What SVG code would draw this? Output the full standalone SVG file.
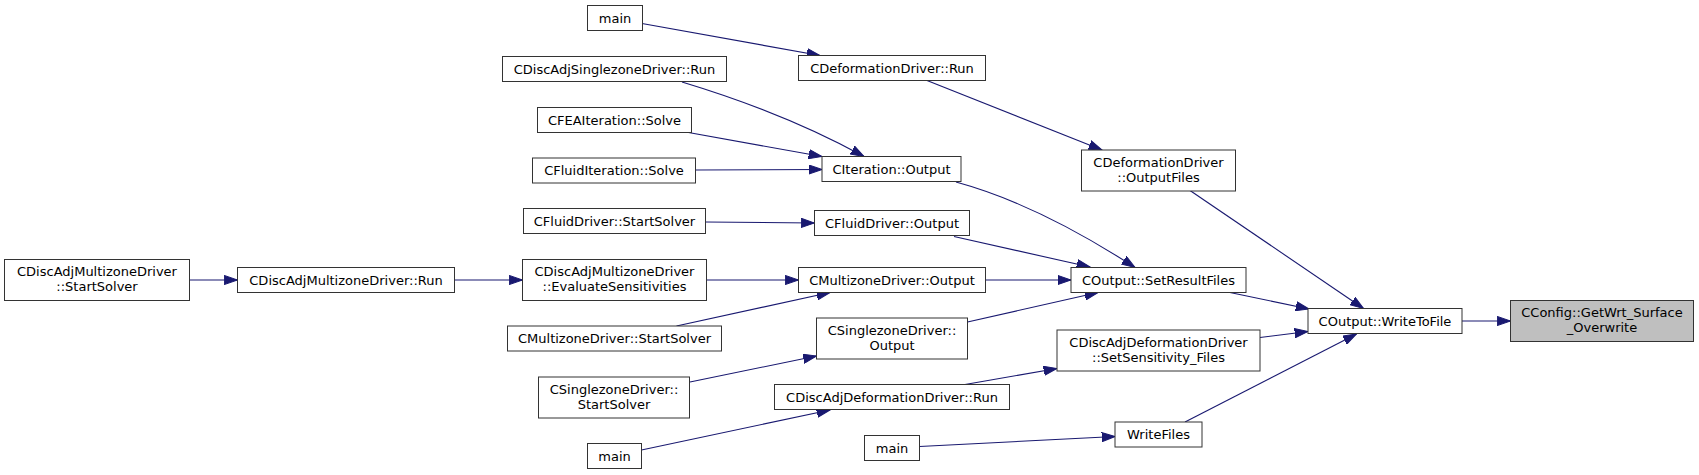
<svg xmlns="http://www.w3.org/2000/svg" width="1699" height="475" viewBox="0 0 1699 475">
<style>
.n rect{fill:#fff;stroke:#333;stroke-width:1}
.n.hl rect{fill:#bfbfbf}
.n text{font-family:"DejaVu Sans","Liberation Sans",sans-serif;font-size:13px;fill:#000;text-anchor:middle}
.e path{fill:none;stroke:#191970;stroke-width:1.1;marker-end:url(#ah)}
</style>
<defs>
<marker id="ah" markerWidth="14" markerHeight="10" refX="13.3" refY="5" orient="auto" markerUnits="userSpaceOnUse">
<path d="M0,0.4 L13.3,5 L0,9.6 z" fill="#191970" stroke="#191970" stroke-width="1"/>
</marker>
</defs>
<rect width="1699" height="475" fill="#fff"/>
<g id="edges" class="e">
<path d="M189.5,280 L237.5,280"/>
<path d="M454.5,280 L522.5,280"/>
<path d="M706.5,280 L798.5,280"/>
<path d="M676.5,326 L830,292.5"/>
<path d="M985.5,280 L1071,280"/>
<path d="M642,23.5 L820,55.5"/>
<path d="M682,82 C735,98 805,124 864,156.5"/>
<path d="M688.5,132.5 L822,156.5"/>
<path d="M695.5,170 L822,169.5"/>
<path d="M705.5,222 L814.5,223"/>
<path d="M927,80.5 L1102,150"/>
<path d="M956,182 C1000,194 1062,220 1135,267.5"/>
<path d="M954,236.5 L1090,267"/>
<path d="M967.5,322 L1098,292.5"/>
<path d="M690,382 L816.5,356"/>
<path d="M965,384.5 L1057,368.5"/>
<path d="M641.5,450 L830,410"/>
<path d="M919.5,446.5 L1115,436.5"/>
<path d="M1190,190.5 L1363.5,308.5"/>
<path d="M1230,292.5 L1309,309"/>
<path d="M1260,337.5 L1308,331.5"/>
<path d="M1185,422 L1356.5,334"/>
<path d="M1462,321 L1510.5,321"/>
</g>
<g id="n1" class="n"><rect x="4.5" y="259.5" width="185" height="41"/><text x="97" y="276">CDiscAdjMultizoneDriver</text><text x="97" y="291">::StartSolver</text></g>
<g id="n2" class="n"><rect x="237.5" y="267.5" width="217" height="25"/><text x="346" y="284.5">CDiscAdjMultizoneDriver::Run</text></g>
<g id="n3" class="n"><rect x="587.5" y="5.5" width="55" height="25"/><text x="615" y="22.5">main</text></g>
<g id="n4" class="n"><rect x="502.5" y="56.5" width="224" height="25"/><text x="614.5" y="73.5">CDiscAdjSinglezoneDriver::Run</text></g>
<g id="n5" class="n"><rect x="537.5" y="107.5" width="154" height="25"/><text x="614.5" y="124.5">CFEAIteration::Solve</text></g>
<g id="n6" class="n"><rect x="532.5" y="158" width="163" height="25"/><text x="614" y="175">CFluidIteration::Solve</text></g>
<g id="n7" class="n"><rect x="523.5" y="208.5" width="182" height="25"/><text x="614.5" y="225.5">CFluidDriver::StartSolver</text></g>
<g id="n8" class="n"><rect x="522.5" y="259.5" width="184" height="41"/><text x="614.5" y="276">CDiscAdjMultizoneDriver</text><text x="614.5" y="291">::EvaluateSensitivities</text></g>
<g id="n9" class="n"><rect x="507.5" y="326" width="214" height="25"/><text x="614.5" y="343">CMultizoneDriver::StartSolver</text></g>
<g id="n10" class="n"><rect x="538.5" y="377" width="151" height="41"/><text x="614" y="393.5">CSinglezoneDriver::</text><text x="614" y="408.5">StartSolver</text></g>
<g id="n11" class="n"><rect x="587.5" y="443.5" width="54" height="25"/><text x="614.5" y="460.5">main</text></g>
<g id="n12" class="n"><rect x="798.5" y="55.5" width="187" height="25"/><text x="892" y="72.5">CDeformationDriver::Run</text></g>
<g id="n13" class="n"><rect x="822" y="156.5" width="139" height="25"/><text x="891.5" y="173.5">CIteration::Output</text></g>
<g id="n14" class="n"><rect x="814.5" y="210.5" width="155" height="25"/><text x="892" y="227.5">CFluidDriver::Output</text></g>
<g id="n15" class="n"><rect x="798.5" y="267.5" width="187" height="25"/><text x="892" y="284.5">CMultizoneDriver::Output</text></g>
<g id="n16" class="n"><rect x="816.5" y="318" width="151" height="41"/><text x="892" y="334.5">CSinglezoneDriver::</text><text x="892" y="349.5">Output</text></g>
<g id="n17" class="n"><rect x="774.5" y="384.5" width="235" height="25"/><text x="892" y="401.5">CDiscAdjDeformationDriver::Run</text></g>
<g id="n18" class="n"><rect x="864.5" y="435.5" width="55" height="25"/><text x="892" y="452.5">main</text></g>
<g id="n19" class="n"><rect x="1081.5" y="150" width="154" height="41"/><text x="1158.5" y="166.5">CDeformationDriver</text><text x="1158.5" y="181.5">::OutputFiles</text></g>
<g id="n20" class="n"><rect x="1071" y="267.5" width="175" height="25"/><text x="1158.5" y="284.5">COutput::SetResultFiles</text></g>
<g id="n21" class="n"><rect x="1057" y="330" width="203" height="41"/><text x="1158.5" y="346.5">CDiscAdjDeformationDriver</text><text x="1158.5" y="361.5">::SetSensitivity_Files</text></g>
<g id="n22" class="n"><rect x="1115" y="422" width="87" height="25"/><text x="1158.5" y="439">WriteFiles</text></g>
<g id="n23" class="n"><rect x="1308" y="308.5" width="154" height="25"/><text x="1385" y="325.5">COutput::WriteToFile</text></g>
<g id="n24" class="n hl"><rect x="1510.5" y="300.5" width="183" height="41"/><text x="1602" y="317">CConfig::GetWrt_Surface</text><text x="1602" y="332">_Overwrite</text></g>
</svg>
